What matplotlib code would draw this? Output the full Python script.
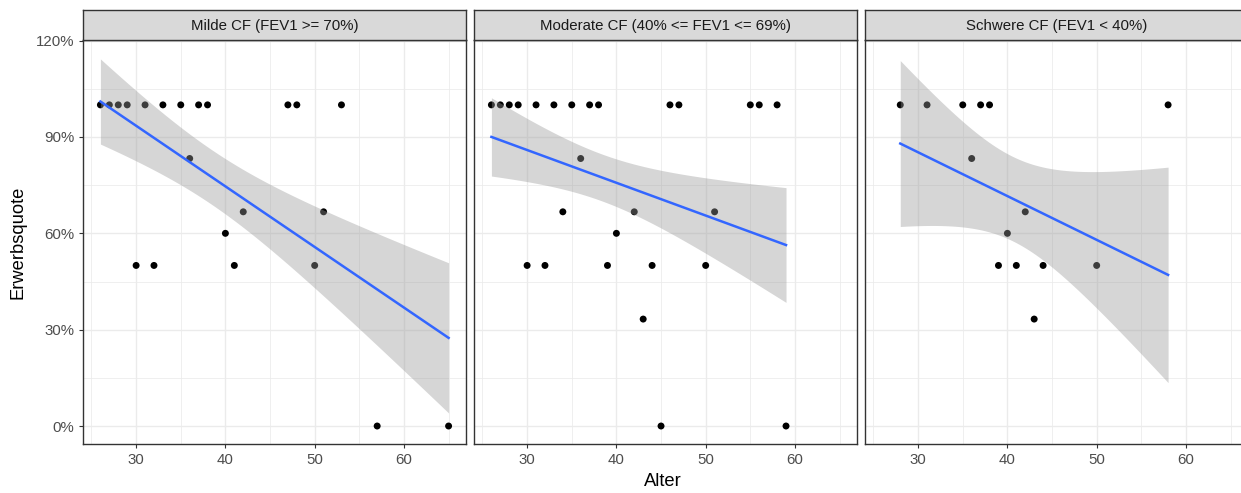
import numpy as np
import matplotlib
matplotlib.use("Agg")
import matplotlib.pyplot as plt
from matplotlib.ticker import FuncFormatter, FixedLocator

plt.rcParams['font.family'] = ['Liberation Sans', 'DejaVu Sans']

# ---------------- data ----------------
panel_titles = ["Milde CF (FEV1 >= 70%)",
                "Moderate CF (40% <= FEV1 <= 69%)",
                "Schwere CF (FEV1 < 40%)"]

# Milde CF: age, employment rate per age, number of persons per age (estimated)
mild_age = [26, 27, 28, 29, 30, 31, 32, 33, 35, 36, 37, 38, 40, 41, 42, 47, 48, 50, 51, 53, 57, 65]
mild_rate = [1, 1, 1, 1, .5, 1, .5, 1, 1, .833, 1, 1, .6, .5, .667, 1, 1, .5, .667, 1, 0, 0]
mild_n = [5, 5, 5, 4, 4, 3, 2, 3, 3, 6, 3, 3, 5, 2, 3, 2, 2, 4, 3, 3, 3, 3]

# Moderate CF
mod_age = [26, 27, 28, 29, 30, 31, 32, 33, 34, 35, 36, 37, 38, 39, 40, 42, 43, 44, 45, 46, 47, 50, 51, 55, 56, 58, 59]
mod_rate = [1, 1, 1, 1, .5, 1, .5, 1, .667, 1, .833, 1, 1, .5, .6, .667, .333, .5, 0, 1, 1, .5, .667, 1, 1, 1, 0]
mod_n = [6, 6, 6, 6, 6, 6, 4, 5, 6, 5, 6, 5, 5, 4, 5, 6, 3, 4, 4, 3, 3, 4, 3, 3, 3, 4, 3]

# Schwere CF
sev_age = [28, 31, 35, 36, 37, 38, 39, 40, 41, 42, 43, 44, 50, 58]
sev_rate = [1, 1, 1, .833, 1, 1, .5, .6, .5, .667, .333, .5, .5, 1]
sev_n = [4, 3, 2, 6, 2, 2, 2, 5, 2, 3, 6, 2, 6, 3]

panels = [(mild_age, mild_rate, mild_n),
          (mod_age, mod_rate, mod_n),
          (sev_age, sev_rate, sev_n)]

x_label = "Alter"
y_label = "Erwerbsquote"


def t975(df):
    z = 1.959963985
    return (z + (z**3 + z) / (4 * df) + (5 * z**5 + 16 * z**3 + 3 * z) / (96 * df**2)
            + (3 * z**7 + 19 * z**5 + 17 * z**3 - 15 * z) / (384 * df**3))


def lm_band(age, rate, n):
    age = np.asarray(age, float)
    n = np.asarray(n, int)
    k = np.rint(np.asarray(rate) * n).astype(int)
    xs = np.repeat(age, n)
    ys = np.concatenate([np.r_[np.ones(kk), np.zeros(nn - kk)] for kk, nn in zip(k, n)])
    N = len(xs)
    mx = xs.mean()
    sxx = ((xs - mx) ** 2).sum()
    b = ((xs - mx) * (ys - ys.mean())).sum() / sxx
    a = ys.mean() - b * mx
    res = ys - (a + b * xs)
    s = np.sqrt((res ** 2).sum() / (N - 2))
    grid = np.linspace(age.min(), age.max(), 80)
    fit = a + b * grid
    se = s * np.sqrt(1.0 / N + (grid - mx) ** 2 / sxx)
    t = t975(N - 2)
    return grid, fit, fit - t * se, fit + t * se


# ---------------- figure ----------------
W, H = 1241, 493
fig = plt.figure(figsize=(W / 100, H / 100), dpi=100)

panel_lefts = [83, 474, 865]
panel_w = 383
top_px, bot_px = 40, 444
strip_top = 9.5

grid_col = '#EBEBEB'
border_col = '#333333'
tick_col = '#4D4D4D'

for i, (age, rate, n) in enumerate(panels):
    L = panel_lefts[i]
    ax = fig.add_axes([L / W, (H - bot_px) / H, panel_w / W, (bot_px - top_px) / H])
    ax.set_xlim(24.05, 66.95)
    ax.set_ylim(-0.056, 1.202)
    ax.xaxis.set_major_locator(FixedLocator([30, 40, 50, 60]))
    ax.xaxis.set_minor_locator(FixedLocator([25, 35, 45, 55, 65]))
    ax.yaxis.set_major_locator(FixedLocator([0, .3, .6, .9, 1.2]))
    ax.yaxis.set_minor_locator(FixedLocator([.15, .45, .75, 1.05]))
    ax.grid(which='major', color=grid_col, lw=1.0, zorder=0)
    ax.grid(which='minor', color=grid_col, lw=0.55, zorder=0)
    ax.set_axisbelow(True)
    for sp in ax.spines.values():
        sp.set_color(border_col)
        sp.set_linewidth(1.0)
    ax.tick_params(which='minor', length=0)
    ax.tick_params(which='major', length=3.2, width=0.8, color=border_col,
                   labelcolor=tick_col, labelsize=10.8, pad=3)
    ax.yaxis.set_major_formatter(FuncFormatter(lambda v, p: f"{int(round(v * 100))}%"))
    if i > 0:
        ax.tick_params(axis='y', which='both', left=False, labelleft=False)

    ax.scatter(age, rate, s=25, color='black', edgecolors='none', zorder=2)
    g, f, lo, hi = lm_band(age, rate, n)
    ax.fill_between(g, lo, hi, color='#999999', alpha=0.4, lw=0, zorder=3)
    ax.plot(g, f, color='#3366FF', lw=1.8, zorder=4)

    sax = fig.add_axes([L / W, (H - top_px) / H, panel_w / W, (top_px - strip_top) / H])
    sax.set_facecolor('#D9D9D9')
    sax.set_xticks([])
    sax.set_yticks([])
    for sp in sax.spines.values():
        sp.set_color(border_col)
        sp.set_linewidth(1.0)
    sax.text(0.5, 0.47, panel_titles[i], transform=sax.transAxes, ha='center', va='center',
             fontsize=10.8, color='#1A1A1A')

fig.text(18 / W, (H - 242) / H, y_label, rotation=90, ha='center', va='center',
         fontsize=13.2, color='black')
fig.text(663 / W, (H - 482) / H, x_label, ha='center', va='center',
         fontsize=13.2, color='black')

fig.savefig('out.png', dpi=100, facecolor='white')
